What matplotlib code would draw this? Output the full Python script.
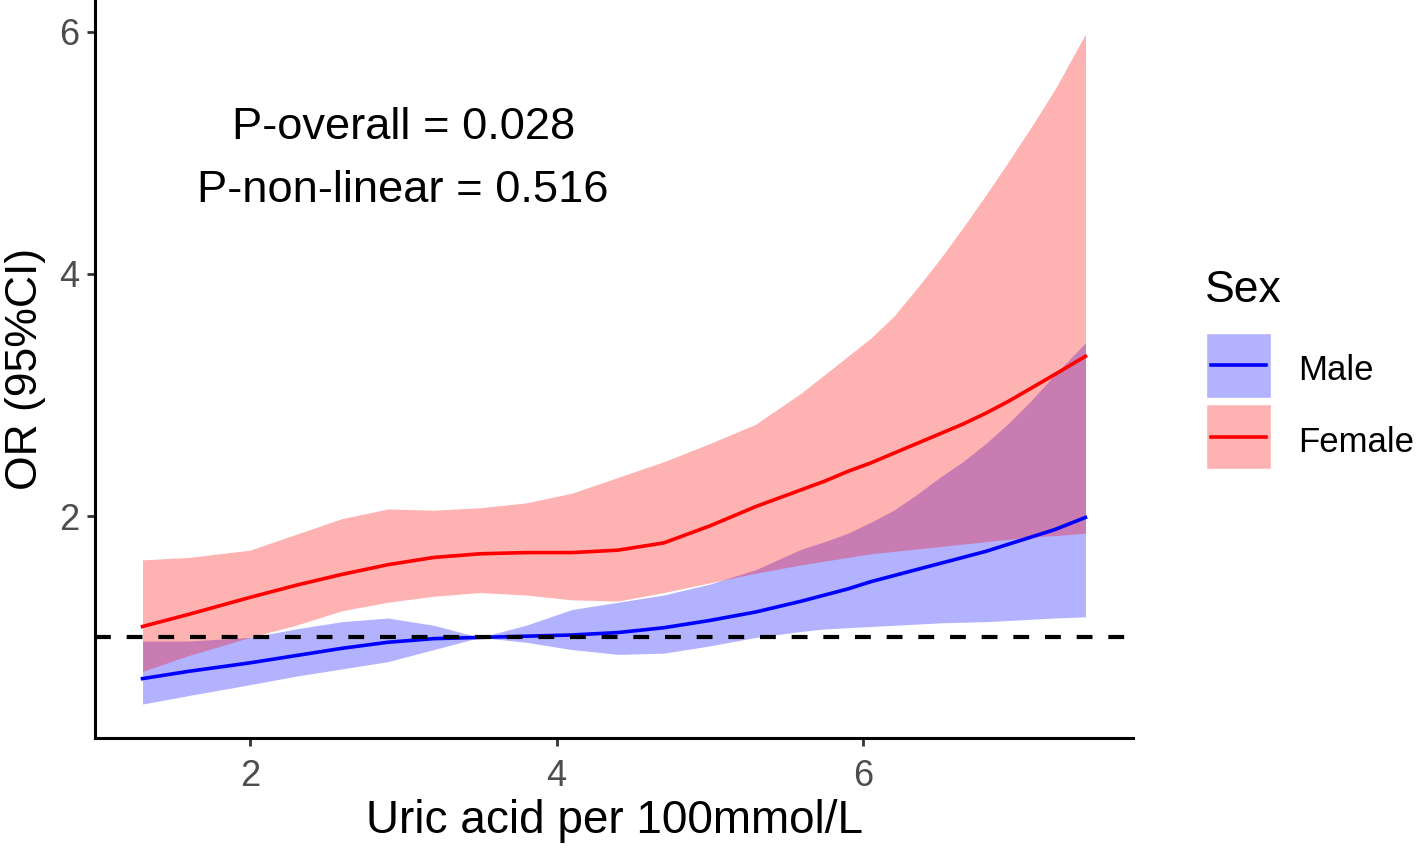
import numpy as np
import matplotlib.pyplot as plt
from matplotlib.patches import Rectangle
from matplotlib.lines import Line2D

plt.rcParams['font.family'] = ['Liberation Sans', 'DejaVu Sans']

# uric acid values (x)
uric = [1.3, 1.6, 2.0, 2.3, 2.6, 2.9, 3.2, 3.5, 3.8, 4.1, 4.4,
        4.7, 5.0, 5.3, 5.6, 5.75, 5.9, 6.05, 6.2, 6.35, 6.5, 6.65,
        6.8, 6.95, 7.1, 7.25, 7.45]

# Male: OR and 95% CI
male_or = [0.66, 0.72, 0.79, 0.85, 0.91, 0.96, 0.99, 1.00, 1.01, 1.02, 1.04,
           1.08, 1.14, 1.21, 1.30, 1.35, 1.40, 1.46, 1.51, 1.56, 1.61, 1.66,
           1.71, 1.77, 1.83, 1.89, 1.99]
male_lo = [0.45, 0.52, 0.61, 0.68, 0.74, 0.80, 0.90, 1.00, 0.96, 0.90, 0.86,
           0.87, 0.93, 1.00, 1.05, 1.07, 1.08, 1.09, 1.10, 1.11, 1.12, 1.125,
           1.13, 1.14, 1.15, 1.16, 1.17]
male_hi = [0.97, 0.97, 1.00, 1.07, 1.13, 1.16, 1.10, 1.00, 1.10, 1.23, 1.29,
           1.35, 1.44, 1.56, 1.73, 1.79, 1.86, 1.95, 2.05, 2.18, 2.32, 2.45,
           2.60, 2.77, 2.96, 3.17, 3.43]

# Female: OR and 95% CI
female_or = [1.09, 1.19, 1.33, 1.43, 1.52, 1.60, 1.66, 1.69, 1.70, 1.70, 1.72,
             1.78, 1.92, 2.08, 2.22, 2.29, 2.37, 2.44, 2.52, 2.60, 2.68, 2.76,
             2.85, 2.95, 3.06, 3.17, 3.32]
female_lo = [0.72, 0.85, 1.00, 1.10, 1.22, 1.29, 1.34, 1.37, 1.35, 1.31, 1.30,
             1.37, 1.45, 1.53, 1.60, 1.63, 1.66, 1.69, 1.71, 1.73, 1.75, 1.77,
             1.79, 1.81, 1.83, 1.84, 1.86]
female_hi = [1.64, 1.66, 1.72, 1.85, 1.98, 2.06, 2.05, 2.07, 2.11, 2.19, 2.32,
             2.45, 2.60, 2.76, 3.02, 3.17, 3.32, 3.47, 3.65, 3.88, 4.12, 4.38,
             4.65, 4.93, 5.22, 5.52, 5.98]

p_text = ["P-overall = 0.028", "P-non-linear = 0.516"]

W, H = 1416, 849
fig = plt.figure(figsize=(W / 100, H / 100), dpi=100)
ax = fig.add_axes([95 / W, 1 - 738 / H, 1038 / W, 738 / H])

male_fill = (0.0, 0.0, 1.0, 0.3)
female_fill = (1.0, 0.0, 0.0, 0.3)

ax.fill_between(uric, male_lo, male_hi, color=male_fill, lw=0)
ax.plot(uric, male_or, color='blue', lw=2.6)
ax.fill_between(uric, female_lo, female_hi, color=female_fill, lw=0)
ax.plot(uric, female_or, color='red', lw=2.6)
ax.axhline(1, color='black', lw=3, linestyle=(0, (3.8, 3.8)), zorder=5)

ax.text(3.0, 5.21, p_text[0], ha='center', va='center', fontsize=32.6)
ax.text(3.0, 4.69, p_text[1], ha='center', va='center', fontsize=32.6)

ax.set_xlim(0.99, 7.76)
ax.set_ylim(0.17, 6.26)
ax.set_xticks([2, 4, 6])
ax.set_yticks([2, 4, 6])
for s in ['top', 'right']:
    ax.spines[s].set_visible(False)
for s in ['left', 'bottom']:
    ax.spines[s].set_linewidth(2.2)
ax.tick_params(axis='both', length=6, width=2, color='#333333',
               labelcolor='#4D4D4D', labelsize=26, pad=5)
ax.tick_params(axis='x', pad=9)
ax.set_xlabel("Uric acid per 100mmol/L", fontsize=33, labelpad=4)
ax.set_ylabel("OR (95%CI)", fontsize=32, labelpad=10)


# legend drawn by hand in pixel positions
def fx(px):
    return px / W


def fy(py):
    return 1 - py / H


fig.text(fx(1205), fy(291), "Sex", fontsize=32, va='center', ha='left')
keys = [("Male", male_fill, 'blue', 333), ("Female", female_fill, 'red', 404)]
for lab, fc, lc, top in keys:
    fig.add_artist(Rectangle((fx(1206), fy(top + 65)), fx(65), 65 / H,
                             facecolor=fc, edgecolor='white', lw=1,
                             transform=fig.transFigure))
    fig.add_artist(Line2D([fx(1211), fx(1266)], [fy(top + 32.5)] * 2,
                          color=lc, lw=2.6, transform=fig.transFigure))
    fig.text(fx(1298), fy(top + 38), lab, fontsize=25, va='center', ha='left')

fig.savefig("out.png", dpi=100)
